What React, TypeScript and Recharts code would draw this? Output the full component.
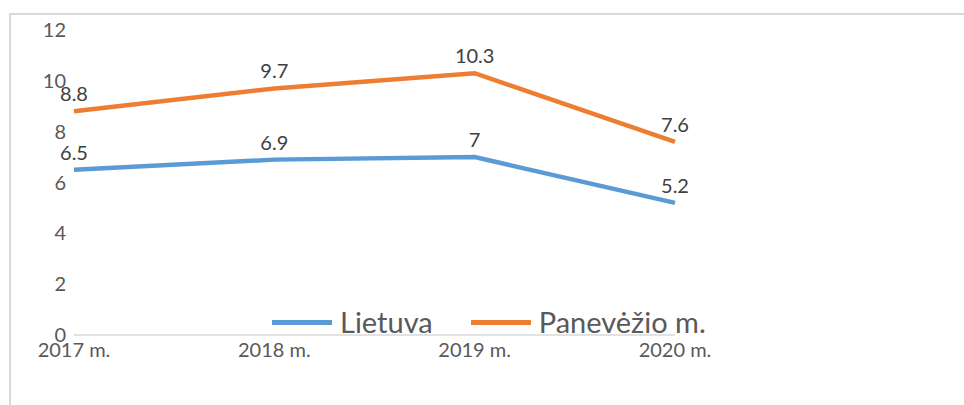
import { CartesianGrid, LabelList, Legend, Line, LineChart, XAxis, YAxis } from "recharts";

const years = ["2017 m.", "2018 m.", "2019 m.", "2020 m."];
const lietuva = [6.5, 6.9, 7, 5.2];
const panevezys = [8.8, 9.7, 10.3, 7.6];
const yTicks = [0, 2, 4, 6, 8, 10, 12];

const data = years.map((year, i) => ({
    name: year,
    lietuva: lietuva[i],
    panevezys: panevezys[i],
}));

const FONT = "Lato, 'Open Sans', sans-serif";

function LegendContent(props: any) {
    const { payload } = props;
    return (
        <div style={{ display: "flex", alignItems: "center", fontFamily: FONT, fontSize: 29, lineHeight: "30px", color: "#595959" }}>
            {(payload || []).map((entry: any, i: number) => (
                <div key={i} style={{ display: "flex", alignItems: "center", marginRight: 38 }}>
                    <div style={{ width: 60, height: 5, background: entry.color, marginRight: 8 }} />
                    <span>{entry.value}</span>
                </div>
            ))}
        </div>
    );
}

export default function App() {
    return (
        <div style={{ position: "fixed", left: 0, top: 0, width: 964, height: 405, background: "#fff", overflow: "hidden" }}>
            {/* chart frame */}
            <div
                style={{
                    position: "absolute",
                    left: 9,
                    top: 13,
                    width: 980,
                    height: 420,
                    borderTop: "2px solid #d9d9d9",
                    borderLeft: "2px solid #d9d9d9",
                }}
            />
            <LineChart
                width={964}
                height={405}
                data={data}
                margin={{ top: 30, right: 289, bottom: 40, left: 14 }}
                style={{ position: "absolute", left: 0, top: 0 }}
            >
                <CartesianGrid horizontal={false} vertical={false} />
                <XAxis
                    dataKey="name"
                    height={30}
                    stroke="#d9d9d9"
                    strokeWidth={1.5}
                    tickLine={false}
                    tickMargin={2}
                    tick={{ fill: "#595959", fontSize: 20, fontFamily: FONT }}
                    interval={0}
                />
                <YAxis
                    width={60}
                    domain={[0, 12]}
                    ticks={yTicks}
                    axisLine={false}
                    tickLine={false}
                    tick={{ fill: "#595959", fontSize: 20, fontFamily: FONT }}
                />
                <Legend
                    verticalAlign="middle"
                    align="center"
                    wrapperStyle={{ top: 307, left: 272, width: "auto" }}
                    content={<LegendContent />}
                />
                <Line
                    type="linear"
                    dataKey="lietuva"
                    name="Lietuva"
                    stroke="#5b9bd5"
                    strokeWidth={4.5}
                    dot={false}
                    isAnimationActive={false}
                >
                    <LabelList dataKey="lietuva" position="top" offset={10} fill="#404040" fontSize={20} fontFamily={FONT} />
                </Line>
                <Line
                    type="linear"
                    dataKey="panevezys"
                    name="Panevėžio m."
                    stroke="#ed7d31"
                    strokeWidth={4.5}
                    dot={false}
                    isAnimationActive={false}
                >
                    <LabelList dataKey="panevezys" position="top" offset={10} fill="#404040" fontSize={20} fontFamily={FONT} />
                </Line>
            </LineChart>
        </div>
    );
}
